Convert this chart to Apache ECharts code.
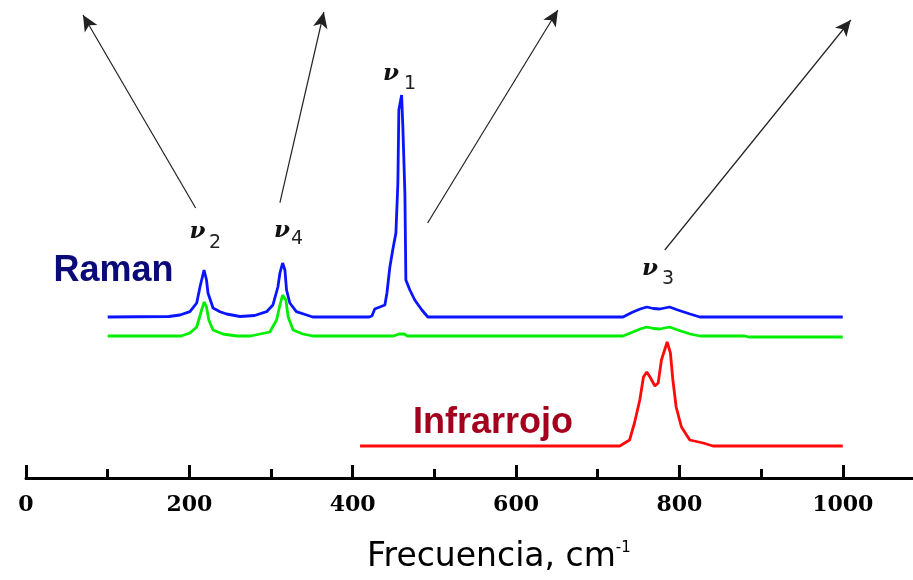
<!DOCTYPE html>
<html>
<head>
<meta charset="utf-8">
<script src="https://cdn.jsdelivr.net/npm/echarts@6/dist/echarts.min.js"></script>
<style>html,body{margin:0;padding:0;background:#fff;}#c{width:913px;height:580px;}</style>
</head>
<body>
<div id="c"></div>
<script>
// ---- data (frequency in cm-1, intensity above each trace's own baseline, arbitrary units) ----
const blueFreq = [100,175,188.5,200.7,209,213,218,221,222.8,229,237.5,245.6,262,280,294.6,302.3,308.4,310.9,314.2,317,319,323,331,343.6,351,420,423.5,427,439.4,441.9,445.5,449,452.9,455.3,456.5,459.9,461.4,463.9,465.1,470,476,484.7,492,731,743,752,760,768,776,788,798,813,825,1000];
const blueInt  = [0,0.5,2,5.3,14,30,47,37,24,9,5.3,3,0.5,1.5,5.3,12,30,44,54,47,27,14,5.3,2,0,0,1,8,12,24,50,67,84,134,207,222,190,124,37,27,17,7,0,0,5,8,10,8.5,8,10,7,3,0,0];

const greenFreq = [100,190,200.7,209,215,218.2,221,223.8,229,241,258,275,298.6,306.8,310.9,314.2,318.2,321,327,339,351,450,457,463,467,731,743,752,760,768,776,788,798,813,825,880,885,1000];
const greenInt  = [0,0,3,9,26,34,29,16,6,2,0,0,4,16,31,41,36,19,6,2,0,0,2,2,0,0,4,7,9,7.5,7,9,6,2,0,0,-1,-1];

const redFreq = [409,727,739,745,751.5,756,760,764,770,774,778,785,789,792,796,802.5,812.7,829,841,1000];
const redInt  = [0,0,6,23,46,69,74,69,60,63,86,104,93,66,39,19,6,3,0,0];

const majorTicks = [0,200,400,600,800,1000];
const minorTicks = [100,300,500,700,900];
const seriesNames = ['Raman', 'Raman (2)', 'Infrarrojo'];
const bandLabels = ['1','2','4','3'];

// layout offsets (vertical stacking of the traces)
const offsets = {blue: 161, green: 142, red: 32};

function build(freq, vals, off) {
  return freq.map((f, i) => [f, vals[i] + off]);
}

const chart = echarts.init(document.getElementById('c'), null, {renderer: 'canvas'});

const arrowLines = [
  [{coord: [207.7, 270]}, {coord: [69.8, 463]}],
  [{coord: [310.9, 275.3]}, {coord: [364.7, 466]}],
  [{coord: [491.7, 255]}, {coord: [651.2, 468]}],
  [{coord: [782.1, 228]}, {coord: [1009.8, 458]}]
];

const nuFont = {fontFamily: 'DejaVu Serif', fontStyle: 'italic', fontWeight: 'bold', fontSize: 23, fill: '#111'};
const subFont = {fontFamily: 'DejaVu Sans', fontSize: 19, fill: '#222'};
const nuPos = [[391,74,410,84],[197.5,232.5,215,243],[282,231,297,239],[650,269,668,279]];
const nuGraphics = [];
nuPos.forEach((p, i) => {
  nuGraphics.push({type: 'text', x: p[0], y: p[1], style: Object.assign({text: 'ν', align: 'center', verticalAlign: 'middle'}, nuFont)});
  nuGraphics.push({type: 'text', x: p[2], y: p[3], style: Object.assign({text: bandLabels[i], align: 'center', verticalAlign: 'middle'}, subFont)});
});

const option = {
  animation: false,
  backgroundColor: '#fff',
  grid: {left: 26, right: 0, top: 0, bottom: 102, containLabel: false},
  xAxis: [{
    type: 'value', min: 0, max: 1086, position: 'bottom',
    splitLine: {show: false},
    axisLine: {show: true, lineStyle: {color: '#000', width: 3}},
    axisTick: {show: true, inside: true, length: 13, customValues: majorTicks, lineStyle: {color: '#000', width: 3}},
    axisLabel: {show: true, customValues: majorTicks, margin: 16, color: '#000', fontFamily: 'DejaVu Serif', fontWeight: 'bold', fontSize: 22,
      formatter: function (v) { return String(v); }}
  }, {
    type: 'value', min: 0, max: 1086, position: 'bottom', offset: 0,
    splitLine: {show: false},
    axisLine: {show: false},
    axisTick: {show: true, inside: true, length: 9, customValues: minorTicks, lineStyle: {color: '#000', width: 3}},
    axisLabel: {show: false}
  }],
  yAxis: {type: 'value', min: 0, max: 478, show: false},
  series: [
    {
      name: seriesNames[1], type: 'line', xAxisIndex: 0, data: build(greenFreq, greenInt, offsets.green),
      showSymbol: false, symbol: 'none', clip: false,
      lineStyle: {color: '#00ee00', width: 2.8}
    },
    {
      name: seriesNames[0], type: 'line', xAxisIndex: 0, data: build(blueFreq, blueInt, offsets.blue),
      showSymbol: false, symbol: 'none', clip: false,
      lineStyle: {color: '#0a14ff', width: 2.8},
      markLine: {
        silent: true, symbol: ['none', 'arrow'], symbolSize: [11, 16],
        label: {show: false},
        lineStyle: {color: '#222', width: 1.2, type: 'solid'},
        emphasis: {disabled: true},
        data: arrowLines
      }
    },
    {
      name: seriesNames[2], type: 'line', xAxisIndex: 0, data: build(redFreq, redInt, offsets.red),
      showSymbol: false, symbol: 'none', clip: false,
      lineStyle: {color: '#ff0a0a', width: 2.8}
    }
  ],
  graphic: [
    {type: 'text', x: 113.5, y: 271, style: {text: 'Raman', align: 'center', verticalAlign: 'middle', fontFamily: 'Liberation Sans', fontWeight: 'bold', fontSize: 36, fill: '#0a0a78'}},
    {type: 'text', x: 493, y: 423, style: {text: 'Infrarrojo', align: 'center', verticalAlign: 'middle', fontFamily: 'Liberation Sans', fontWeight: 'bold', fontSize: 36, fill: '#a3001e'}},
    {type: 'text', x: 367, y: 557, style: {
      text: '{a|Frecuencia, cm}{b|-1}', align: 'left', verticalAlign: 'middle',
      rich: {
        a: {fontFamily: 'DejaVu Sans', fontSize: 33, fill: '#000', color: '#000'},
        b: {fontFamily: 'DejaVu Sans', fontSize: 15, fill: '#000', color: '#000', verticalAlign: 'top'}
      }
    }}
  ].concat(nuGraphics)
};
chart.setOption(option);
</script>
</body>
</html>
